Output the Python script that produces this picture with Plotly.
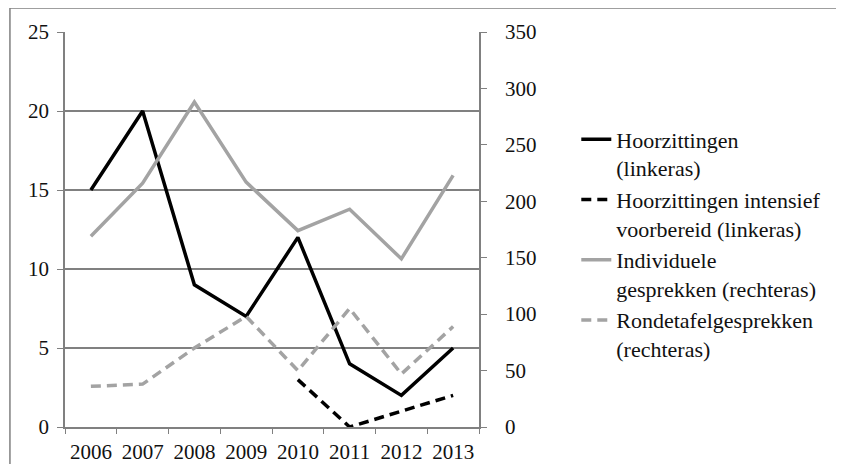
import plotly.graph_objects as go

years = ["2006", "2007", "2008", "2009", "2010", "2011", "2012", "2013"]
hoorzittingen = [15, 20, 9, 7, 12, 4, 2, 5]
hoorzittingen_intensief = [None, None, None, None, 3, 0, 1, 2]
individuele = [169, 216, 288, 217, 174, 193, 149, 223]
rondetafel = [36, 38, 70, 98, 50, 105, 47, 89]

names = [
    "Hoorzittingen<br>(linkeras)",
    "Hoorzittingen intensief<br>voorbereid (linkeras)",
    "Individuele<br>gesprekken (rechteras)",
    "Rondetafelgesprekken<br>(rechteras)",
]

BLACK = "#000000"
GRAY = "#A3A3A3"
AXIS = "#808080"
DASH = "10px,6px"
FONT = "Liberation Serif, Times New Roman, serif"
FS = 21

fig = go.Figure()
fig.add_trace(go.Scatter(x=years, y=hoorzittingen, name=names[0], mode="lines",
                         line=dict(color=BLACK, width=3.5), legendgroup="a", yaxis="y"))
fig.add_trace(go.Scatter(x=years, y=hoorzittingen_intensief, name=names[1], mode="lines",
                         line=dict(color=BLACK, width=3.5, dash=DASH), legendgroup="b", yaxis="y"))
fig.add_trace(go.Scatter(x=years, y=individuele, name=names[2], mode="lines",
                         line=dict(color=GRAY, width=3.5), legendgroup="c", yaxis="y2"))
fig.add_trace(go.Scatter(x=years, y=rondetafel, name=names[3], mode="lines",
                         line=dict(color=GRAY, width=3.5, dash=DASH), legendgroup="d", yaxis="y2"))

fig.update_layout(
    width=836, height=456,
    margin=dict(l=57, r=365, t=24, b=37, autoexpand=False),
    paper_bgcolor="white", plot_bgcolor="white",
    font=dict(family=FONT, size=FS, color="#111111"),
    xaxis=dict(type="category", range=[-0.5, 7.5], tickson="boundaries",
               ticks="outside", ticklen=5, tickcolor=AXIS,
               showline=True, linecolor=AXIS, linewidth=1.5,
               showgrid=False, tickfont=dict(size=FS),
               ticklabelstandoff=5, automargin=False),
    yaxis=dict(range=[0, 25], dtick=5, ticks="outside", ticklen=6, tickcolor=AXIS,
               showline=True, linecolor=AXIS, linewidth=1.5,
               showgrid=True, gridcolor=AXIS, gridwidth=1.5,
               zeroline=False, ticklabelstandoff=4, automargin=False),
    yaxis2=dict(range=[0, 350], dtick=50, overlaying="y", side="right",
                ticks="outside", ticklen=6, tickcolor=AXIS,
                showline=True, linecolor=AXIS, linewidth=1.5,
                showgrid=False, zeroline=False, ticklabelstandoff=14,
                automargin=False),
    legend=dict(x=1.235, xanchor="left", y=0.781, yanchor="top",
                traceorder="grouped", tracegroupgap=0, valign="top",
                font=dict(size=22, family=FONT, color="#111111"),
                bgcolor="rgba(0,0,0,0)"),
    shapes=[dict(type="rect", xref="paper", yref="paper",
                 x0=-0.133, x1=1.874, y0=-0.134, y1=1.061,
                 line=dict(color=AXIS, width=1.5))],
)

fig.write_html("out.html")
